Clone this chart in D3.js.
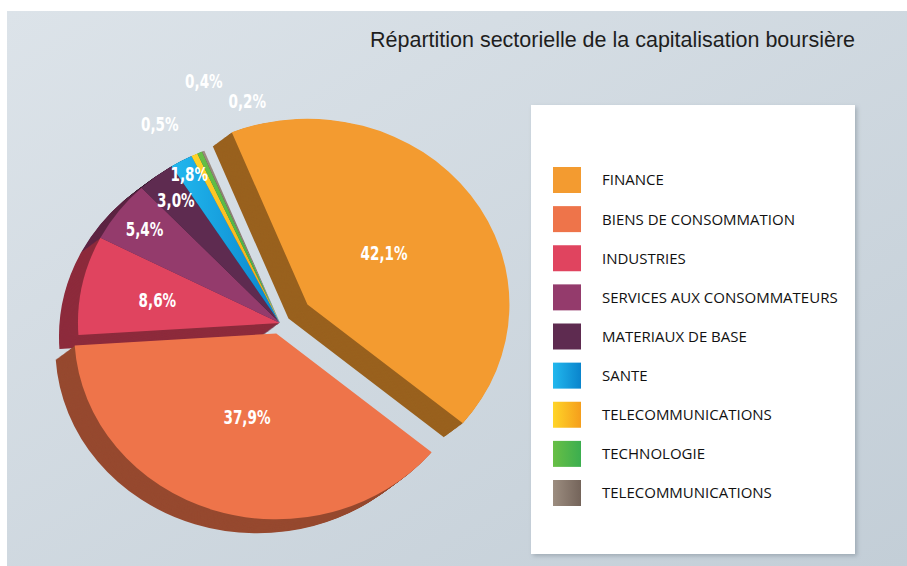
<!DOCTYPE html>
<html>
<head>
<meta charset="utf-8">
<script src="https://cdn.jsdelivr.net/npm/d3@7"></script>
<style>
  body { margin: 0; background: #fff; }
  svg { display: block; }
</style>
</head>
<body>
<div id="chart"></div>
<script>
// data
const title = "Répartition sectorielle de la capitalisation boursière";
const categories = ["FINANCE", "BIENS DE CONSOMMATION", "INDUSTRIES", "SERVICES AUX CONSOMMATEURS",
                    "MATERIAUX DE BASE", "SANTE", "TELECOMMUNICATIONS", "TECHNOLOGIE", "TELECOMMUNICATIONS"];
const shares = [42.1, 37.9, 8.6, 5.4, 3.0, 1.8, 0.5, 0.4, 0.2];
const shareLabels = ["42,1%", "37,9%", "8,6%", "5,4%", "3,0%", "1,8%", "0,5%", "0,4%", "0,2%"];

// colours (left / right stop of each swatch)
const palette = [
  ["#F39B30", "#F39B30"],
  ["#EE744A", "#EE744A"],
  ["#E0445F", "#E0445F"],
  ["#943B6C", "#943B6C"],
  ["#5E2B50", "#5E2B50"],
  ["#22B8EE", "#0A84CC"],
  ["#FFD528", "#F59E1C"],
  ["#68BF45", "#3BAE4F"],
  ["#9C8D80", "#74645A"]
];

var W = 907, H = 566,
    cx = 280, cy = 323,
    R = 202, sy = 0.92,
    depthX = -19, depthY = 14, steps = 20,
    explode = [34, 12, 0, 0, 0, 0, 0, 0, 0];

var svg = d3.select("#chart").append("svg")
    .attr("width", W).attr("height", H)
    .attr("viewBox", `0 0 ${W} ${H}`);

var defs = svg.append("defs");

var bg = defs.append("linearGradient").attr("id", "bg")
    .attr("x1", "0").attr("y1", "0").attr("x2", "1").attr("y2", "1");
bg.append("stop").attr("offset", "0").attr("stop-color", "#DCE3E9");
bg.append("stop").attr("offset", "1").attr("stop-color", "#C3CED7");

palette.forEach(function(p, i) {
  var g = defs.append("linearGradient").attr("id", "grad" + i)
      .attr("x1", "0").attr("y1", "0").attr("x2", "1").attr("y2", "0");
  g.append("stop").attr("offset", "0").attr("stop-color", p[0]);
  g.append("stop").attr("offset", "1").attr("stop-color", p[1]);
});

var shadow = defs.append("filter").attr("id", "shadow")
    .attr("x", "-5%").attr("y", "-5%").attr("width", "115%").attr("height", "115%");
shadow.append("feDropShadow").attr("dx", 2).attr("dy", 2).attr("stdDeviation", 2)
    .attr("flood-color", "#6d7b86").attr("flood-opacity", 0.45);

// background panel
svg.append("rect")
    .attr("x", 7).attr("y", 11).attr("width", W - 7).attr("height", H - 11)
    .style("fill", "url(#bg)");

// title
svg.append("text")
    .text(title)
    .attr("x", 370).attr("y", 47)
    .attr("textLength", 485).attr("lengthAdjust", "spacingAndGlyphs")
    .style("font-family", "'Liberation Sans', sans-serif")
    .style("font-size", "22px")
    .style("fill", "#1e1e1e");

// pie
var pie = d3.pie().sort(null).value(function(d) { return d; })
    .startAngle(-22 * Math.PI / 180)
    .endAngle(338 * Math.PI / 180);

var arcs = pie(shares);
var arc = d3.arc().innerRadius(0).outerRadius(R);

arcs.forEach(function(d, i) {
  var mid = (d.startAngle + d.endAngle) / 2;
  d.ox = Math.sin(mid) * explode[i];
  d.oy = -Math.cos(mid) * explode[i] * sy;
  d.mid = mid;
  d.i = i;
});

var pieG = svg.append("g").attr("transform", "translate(" + cx + "," + cy + ")");

// extruded side: stacked copies, far to near
for (var k = steps; k >= 1; k--) {
  var t = k / steps;
  pieG.append("g")
    .selectAll("path")
    .data(arcs)
    .enter()
    .append("path")
      .attr("d", arc)
      .attr("transform", function(d) {
        return "translate(" + (d.ox + depthX * t) + "," + (d.oy + depthY * t) + ") scale(1," + sy + ")";
      })
      .style("fill", function(d) { return d3.rgb(palette[d.i][1]).darker(1.3); });
}

// top faces
pieG.append("g")
  .selectAll("path")
  .data(arcs)
  .enter()
  .append("path")
    .attr("d", arc)
    .attr("transform", function(d) { return "translate(" + d.ox + "," + d.oy + ") scale(1," + sy + ")"; })
    .style("fill", function(d) { return "url(#grad" + d.i + ")"; });

// labels (tiny slices get theirs outside, fanned out)
var outside = arcs.filter(function(d) { return d.data < 1; });
var outR = [R + 31, R + 52, R + 23],
    outTurn = [-6, 6, 14];

function labelPos(d) {
  if (d.data < 1) {
    var j = outside.indexOf(d);
    var a = d.mid + outTurn[j] * Math.PI / 180;
    return [Math.sin(a) * outR[j] + d.ox, -Math.cos(a) * outR[j] + d.oy];
  }
  var lr = d.data > 20 ? 0.47 * R : d.data > 7 ? 0.62 * R : d.data > 2.5 ? 0.84 * R : 0.92 * R;
  return [Math.sin(d.mid) * lr + d.ox, -Math.cos(d.mid) * lr * sy + d.oy];
}

pieG.append("g")
  .selectAll("text")
  .data(arcs)
  .enter()
  .append("text")
    .text(function(d) { return shareLabels[d.i]; })
    .attr("x", function(d) { return labelPos(d)[0]; })
    .attr("y", function(d) { return labelPos(d)[1]; })
    .attr("dy", "0.36em")
    .attr("text-anchor", "middle")
    .attr("textLength", function(d) { return shareLabels[d.i].length * 9.4; })
    .attr("lengthAdjust", "spacingAndGlyphs")
    .style("font-family", "'DejaVu Sans', sans-serif")
    .style("font-weight", "bold")
    .style("font-size", "20px")
    .style("fill", "#fff");

// legend
svg.append("rect")
    .attr("x", 531).attr("y", 105).attr("width", 324).attr("height", 449)
    .style("fill", "#fff")
    .attr("filter", "url(#shadow)");

var ly = d3.scalePoint().domain(d3.range(categories.length)).range([180, 493]);

var items = svg.append("g").selectAll("g")
    .data(categories)
    .enter()
    .append("g")
      .attr("transform", function(d, i) { return "translate(553," + ly(i) + ")"; });

items.append("rect")
    .attr("x", 0).attr("y", -13).attr("width", 28).attr("height", 26)
    .style("fill", function(d, i) { return "url(#grad" + i + ")"; });

items.append("text")
    .text(function(d) { return d; })
    .attr("x", 49).attr("y", 0).attr("dy", "0.36em")
    .style("font-family", "'Open Sans', sans-serif")
    .style("font-size", "15px")
    .style("fill", "#111");
</script>
</body>
</html>
